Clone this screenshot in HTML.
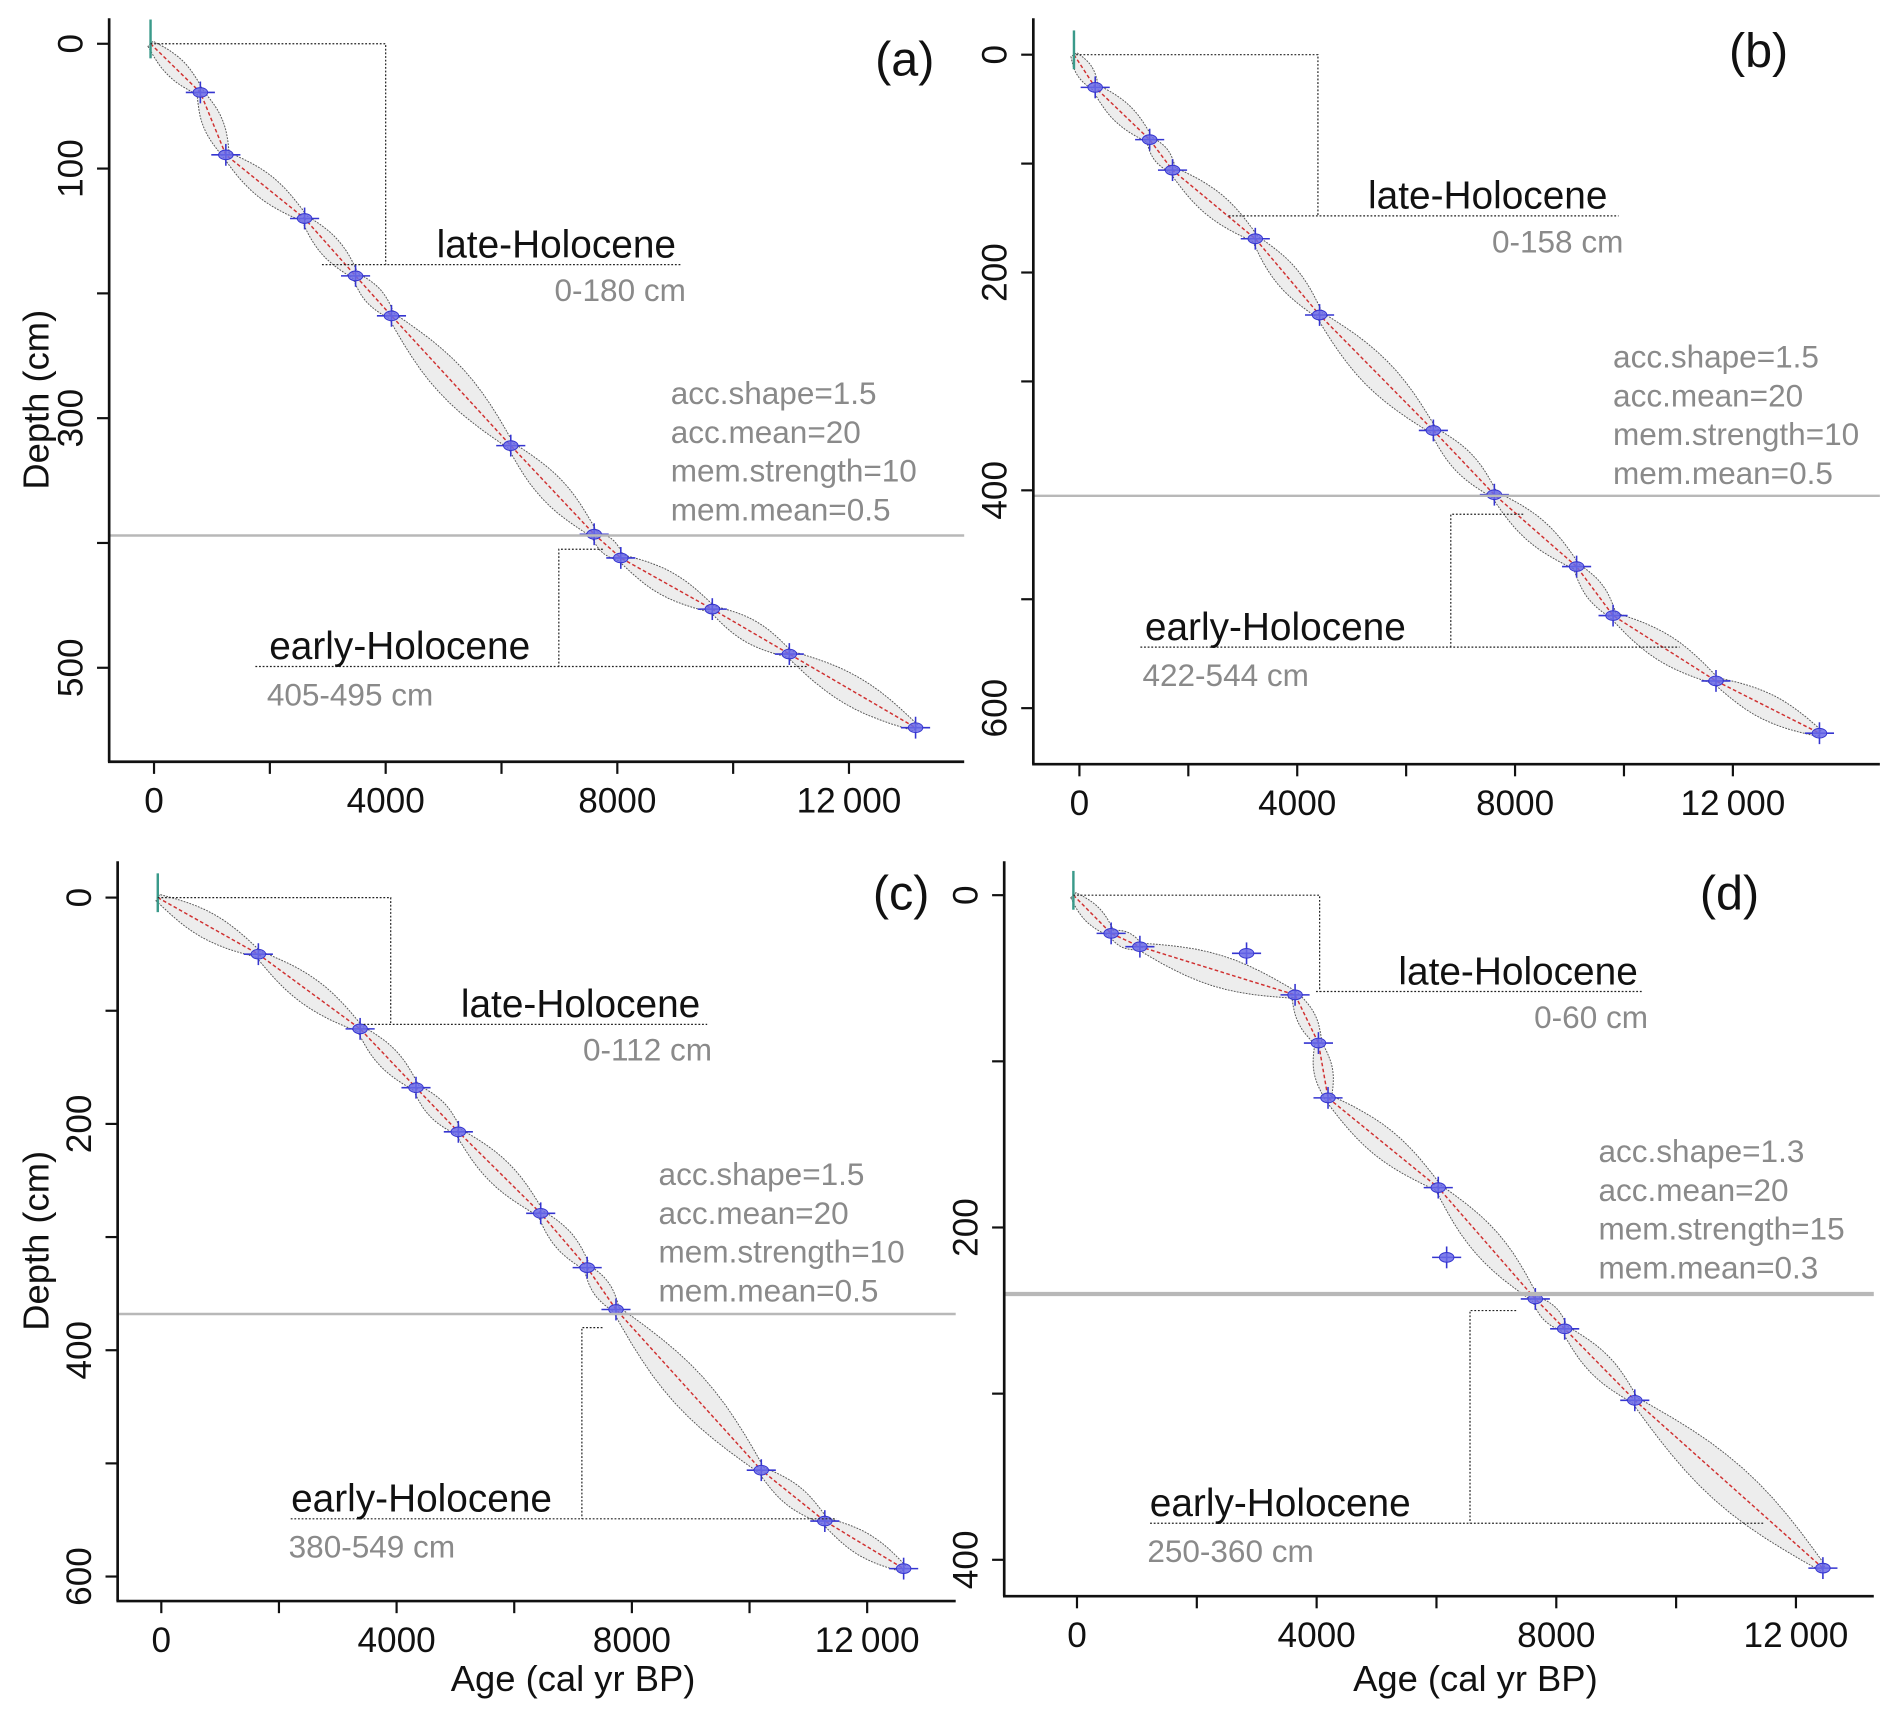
<!DOCTYPE html>
<html><head><meta charset="utf-8"><style>
html,body{margin:0;padding:0;background:#fff}
svg{display:block}
text{font-family:"Liberation Sans",Arial,sans-serif}
</style></head><body>
<svg id="chart" xmlns="http://www.w3.org/2000/svg" width="1892" height="1720" viewBox="0 0 1560 1418"></svg>
<script>
// Data arrays (age cal yr BP, depth cm) for each panel's dated samples
const ageA=[-60,800,1240,2600,3480,4100,6160,7600,8060,9640,10970,13150];
const depthA=[0,39,89,140,186,218,322,393,412,453,489,548];
const ageB=[-100,290,1290,1710,3230,4410,6500,7620,9130,9800,11690,13590];
const depthB=[0,30,78,106,169,239,345,404,470,515,575,623];
const ageC=[-60,1650,3380,4330,5050,6450,7240,7730,10200,11280,12620];
const depthC=[0,50,116,168,207,279,327,364,506,551,593];
const ageD=[-60,570,1050,2830,3640,4030,4190,6030,6170,7650,8140,9310,12450];
const depthD=[0,23,31,35,60,89,122,176,218,243,261,304,405];
const outlierD=[0,0,0,1,0,0,0,0,1,0,0,0,0];
const xTickVals=[0,2000,4000,6000,8000,10000,12000];
const xTickLabels=["0","","4000","","8000","","12\u2009000"];
const paramsA=["acc.shape=1.5","acc.mean=20","mem.strength=10","mem.mean=0.5"];
const paramsB=["acc.shape=1.5","acc.mean=20","mem.strength=10","mem.mean=0.5"];
const paramsC=["acc.shape=1.5","acc.mean=20","mem.strength=10","mem.mean=0.5"];
const paramsD=["acc.shape=1.3","acc.mean=20","mem.strength=15","mem.mean=0.3"];
const lateRange=["0-180 cm","0-158 cm","0-112 cm","0-60 cm"];
const earlyRange=["405-495 cm","422-544 cm","380-549 cm","250-360 cm"];
const lateDepth=[177,148,112,58];
const earlyTop=[405,422,380,250];
const earlyBot=[499,544,549,378];
const boundaryDepth=[394,405,368,240];

const NS="http://www.w3.org/2000/svg";
const svg=document.getElementById('chart');
function mk(tag,attrs,parent){const e=document.createElementNS(NS,tag);for(const k in attrs)e.setAttribute(k,attrs[k]);(parent||svg).appendChild(e);return e;}

const panels=[
 {id:'a',ages:ageA,depths:depthA,out:null,params:paramsA,ax:90,top:15,bot:628,right:795,x0:127,xs:0.04775,y0:36,ys:1.029,
  yT:[0,100,200,300,400,500],yL:["0","100","","300","","500"],lateBoxX:4000,lateLineX:[2900,9100],lateTextX:360,earlyX:6990,earlyTopX:7750,earlyLine:[1750,11300],earlyTextX:222,
  paramX:553,paramY:333,lbl:'(a)',lblX:746,lblY:62,ylab:true,xlab:false,thick:2},
 {id:'b',ages:ageB,depths:depthB,out:null,params:paramsB,ax:852,top:15,bot:630,right:1550,x0:890,xs:0.0449,y0:45,ys:0.898,
  yT:[0,100,200,300,400,500,600],yL:["0","","200","","400","","600"],lateBoxX:4380,lateLineX:[2740,9900],lateTextX:1128,earlyX:6820,earlyTopX:8150,earlyLine:[1120,11020],earlyTextX:944,
  paramX:1330,paramY:303,lbl:'(b)',lblX:1450,lblY:55,ylab:false,xlab:false,thick:2},
 {id:'c',ages:ageC,depths:depthC,out:null,params:paramsC,ax:97,top:710,bot:1320,right:788,x0:133,xs:0.0485,y0:740,ys:0.933,
  yT:[0,100,200,300,400,500,600],yL:["0","","200","","400","","600"],lateBoxX:3900,lateLineX:[3440,9280],lateTextX:380,earlyX:7150,earlyTopX:7500,earlyLine:[2200,11480],earlyTextX:240,
  paramX:543,paramY:977,lbl:'(c)',lblX:743,lblY:750,ylab:true,xlab:true,thick:2},
 {id:'d',ages:ageD,depths:depthD,out:outlierD,params:paramsD,ax:828,top:710,bot:1316,right:1545,x0:888,xs:0.0494,y0:738,ys:1.37,
  yT:[0,100,200,300,400],yL:["0","","200","","400"],lateBoxX:4050,lateLineX:[3990,9450],lateTextX:1153,earlyX:6560,earlyTopX:7330,earlyLine:[1220,11480],earlyTextX:948,
  paramX:1318,paramY:958,lbl:'(d)',lblX:1426,lblY:750,ylab:false,xlab:true,thick:3.5}
];

panels.forEach((p,pi)=>{
 const g=mk('g',{});
 
 
 const X=a=>p.x0+a*p.xs, Y=d=>p.y0+d*p.ys;
 const mA=[],mD=[];
 p.ages.forEach((a,i)=>{if(!p.out||!p.out[i]){mA.push(a);mD.push(p.depths[i]);}});
 const up=[],lo=[];
 for(let i=0;i<mA.length-1;i++){
  const x1=X(mA[i]),y1=Y(mD[i]),x2=X(mA[i+1]),y2=Y(mD[i+1]);
  const L=Math.hypot(x2-x1,y2-y1);const nx=-(y2-y1)/L,ny=(x2-x1)/L;
  const w=Math.min(2+L*0.06,17);
  for(let k=0;k<=12;k++){const t=k/12;const b=3+w*Math.sin(Math.PI*t);
   const cx=x1+(x2-x1)*t,cy=y1+(y2-y1)*t;
   up.push([cx+nx*b,cy+ny*b]);lo.push([cx-nx*b,cy-ny*b]);}
 }
 const pts=up.concat(lo.reverse()).map(q=>q[0].toFixed(1)+','+q[1].toFixed(1)).join(' ');
 const env=mk('polygon',{points:pts,fill:'#e8e8e8','fill-opacity':'0.8',stroke:'#555','stroke-width':'0.8','stroke-dasharray':'1.5,1'},g);
 
 
 const med=mk('polyline',{points:mA.map((a,i)=>X(a)+','+Y(mD[i])).join(' '),fill:'none',stroke:'#d03030','stroke-width':'1.2','stroke-dasharray':'3,2'},g);
 
 
 p.ages.forEach((a,i)=>{
  const x=X(a),y=Y(p.depths[i]);
  const dg=mk('g',{},g);
  
  
  if(i===0){mk('line',{x1:x,y1:y-20,x2:x,y2:y+12,stroke:'#3a9a8a','stroke-width':'2'},dg);}
  else{
   mk('line',{x1:x-12,y1:y,x2:x+12,y2:y,stroke:'#3535d0','stroke-width':'1.3'},dg);
   mk('line',{x1:x,y1:y-9,x2:x,y2:y+9,stroke:'#3535d0','stroke-width':'1.3'},dg);
   mk('ellipse',{cx:x,cy:y,rx:6,ry:4,fill:'#6a6ae8','fill-opacity':'0.85',stroke:'#3535d0','stroke-width':'0.8'},dg);
  }
 });
 const bl=mk('line',{x1:p.ax,y1:Y(boundaryDepth[pi]),x2:p.right,y2:Y(boundaryDepth[pi]),stroke:'#b8b8b8','stroke-width':p.thick},g);
 
 
 const dot={fill:'none',stroke:'#222','stroke-width':'1','stroke-dasharray':'1.5,1.5'};
 const lb=mk('polyline',Object.assign({points:`${X(-60)},${Y(0)} ${X(p.lateBoxX)},${Y(0)} ${X(p.lateBoxX)},${Y(lateDepth[pi])}`},dot),g);
 
 
 mk('line',Object.assign({x1:X(p.lateLineX[0]),y1:Y(lateDepth[pi]),x2:X(p.lateLineX[1]),y2:Y(lateDepth[pi])},dot),g);
 const lt=mk('text',{x:p.lateTextX,y:Y(lateDepth[pi])-6,'font-size':'32',fill:'#111'},g);lt.textContent='late-Holocene';
 
 
 const lr=mk('text',{x:X(p.lateLineX[1])+4,y:Y(lateDepth[pi])+30,'font-size':'26','text-anchor':'end',fill:'#8a8a8a'},g);lr.textContent=lateRange[pi];
 
 
 mk('polyline',Object.assign({points:`${X(p.earlyTopX)},${Y(earlyTop[pi])} ${X(p.earlyX)},${Y(earlyTop[pi])} ${X(p.earlyX)},${Y(earlyBot[pi])}`},dot),g);
 const eb=mk('line',Object.assign({x1:X(p.earlyLine[0]),y1:Y(earlyBot[pi]),x2:X(p.earlyLine[1]),y2:Y(earlyBot[pi])},dot),g);
 
 
 const et=mk('text',{x:p.earlyTextX,y:Y(earlyBot[pi])-6,'font-size':'32',fill:'#111'},g);et.textContent='early-Holocene';
 
 
 const er=mk('text',{x:p.earlyTextX-2,y:Y(earlyBot[pi])+32,'font-size':'26',fill:'#8a8a8a'},g);er.textContent=earlyRange[pi];
 
 
 p.params.forEach((s,i)=>{const t=mk('text',{x:p.paramX,y:p.paramY+i*32,'font-size':'26',fill:'#8a8a8a'},g);t.textContent=s;
  
  });
 const pl=mk('text',{x:p.lblX,y:p.lblY,'font-size':'40','text-anchor':'middle',fill:'#111'},g);pl.textContent=p.lbl;
 
 
 const ya=mk('line',{x1:p.ax,y1:p.top,x2:p.ax,y2:p.bot,stroke:'#111','stroke-width':'2.2'},g);
 
 
 const xa=mk('line',{x1:p.ax-1,y1:p.bot,x2:p.right,y2:p.bot,stroke:'#111','stroke-width':'2.2'},g);
 
 
 p.yT.forEach((d,i)=>{const y=Y(d);mk('line',{x1:p.ax-10,y1:y,x2:p.ax,y2:y,stroke:'#111','stroke-width':'1.8'},g);
  if(p.yL[i]){const t=mk('text',{x:0,y:0,'font-size':'29','text-anchor':'middle',fill:'#111',transform:`translate(${p.ax-22},${y}) rotate(-90)`},g);t.textContent=p.yL[i];
   
   }});
 xTickVals.forEach((a,i)=>{const x=X(a);mk('line',{x1:x,y1:p.bot,x2:x,y2:p.bot+10,stroke:'#111','stroke-width':'1.8'},g);
  if(xTickLabels[i]){const t=mk('text',{x:x,y:p.bot+42,'font-size':'29','text-anchor':'middle',fill:'#111'},g);t.textContent=xTickLabels[i];
   
   }});
 if(p.ylab){const t=mk('text',{x:0,y:0,'font-size':'30','text-anchor':'middle',fill:'#111',transform:`translate(40,${(p.top+p.bot)/2+8}) rotate(-90)`},g);t.textContent='Depth (cm)';
  
  }
 if(p.xlab){const t=mk('text',{x:(p.ax+p.right)/2+30,y:1394,'font-size':'30','text-anchor':'middle',fill:'#111'},g);t.textContent='Age (cal yr BP)';
  
  }
});
</script>
</body></html>
